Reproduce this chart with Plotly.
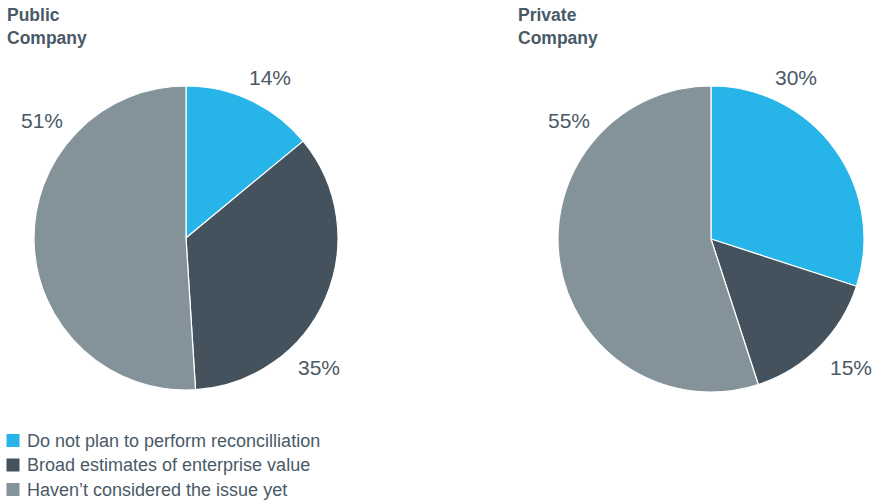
import plotly.graph_objects as go

# Survey answers for each company type (percent of respondents)
categories = [
    "Do not plan to perform reconcilliation",
    "Broad estimates of enterprise value",
    "Haven\u2019t considered the issue yet",
]
public_values = [14, 35, 51]
private_values = [30, 15, 55]
colors = ["#27B5E9", "#43525D", "#84939A"]

W, H = 874, 501
TEXT = "#4A5966"
FONT = "Helvetica Neue, Liberation Sans, Arial, sans-serif"


def px(x):
    return x / W


def py(y):
    return 1 - y / H


fig = go.Figure()

for values, dom_x, dom_y in [
    (public_values, [px(34), px(338)], [py(390), py(86)]),
    (private_values, [px(558), px(864)], [py(392), py(86)]),
]:
    fig.add_trace(go.Pie(
        labels=categories,
        values=values,
        sort=False,
        direction="clockwise",
        rotation=0,
        textinfo="none",
        hoverinfo="label+percent",
        marker=dict(colors=colors, line=dict(color="white", width=1.2)),
        domain=dict(x=dom_x, y=dom_y),
        showlegend=False,
    ))

annotations = []

# Panel titles
for x0, title in [(5, "Public<br>Company"), (516, "Private<br>Company")]:
    annotations.append(dict(
        x=px(x0), y=py(3), xref="paper", yref="paper",
        xanchor="left", yanchor="top", align="left", showarrow=False,
        text=f"<b>{title}</b>",
        font=dict(family=FONT, size=17.5, color=TEXT),
    ))

# Percentage labels beside each slice
label_pos = {
    "public": [(270, 77), (319, 367), (42, 121)],
    "private": [(796, 77), (851, 367), (569, 121)],
}
for key, values in [("public", public_values), ("private", private_values)]:
    for (lx, ly), v in zip(label_pos[key], values):
        annotations.append(dict(
            x=px(lx), y=py(ly), xref="paper", yref="paper",
            xanchor="center", yanchor="middle", showarrow=False,
            text=f"{v}%",
            font=dict(family=FONT, size=21, color=TEXT),
        ))

# Legend: colour squares with category names
shapes = []
for i, (cat, col) in enumerate(zip(categories, colors)):
    cy = 440.5 + 24.5 * i
    shapes.append(dict(
        type="rect", xref="paper", yref="paper",
        x0=px(6.5), x1=px(19.5), y0=py(cy + 6.5), y1=py(cy - 6.5),
        fillcolor=col, line=dict(width=0),
    ))
    annotations.append(dict(
        x=px(25), y=py(cy), xref="paper", yref="paper",
        xanchor="left", yanchor="middle", showarrow=False,
        text=cat,
        font=dict(family=FONT, size=18, color=TEXT),
    ))

fig.update_layout(
    width=W, height=H,
    margin=dict(l=0, r=0, t=0, b=0),
    paper_bgcolor="white",
    plot_bgcolor="white",
    annotations=annotations,
    shapes=shapes,
)

fig.write_html("out.html")
